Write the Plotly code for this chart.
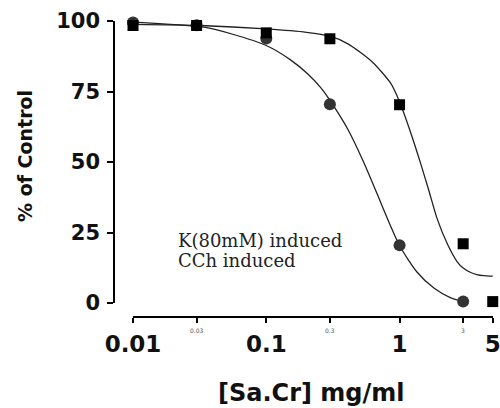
import numpy as np
import plotly.graph_objects as go

# ---- data ----
conc_circle = [0.01, 0.03, 0.1, 0.3, 1, 3]
resp_circle = [99.5, 98.5, 93.8, 70.5, 20.5, 0.5]

conc_square = [0.01, 0.03, 0.1, 0.3, 1, 3, 5]
resp_square = [98.4, 98.4, 95.8, 93.7, 70.3, 21.0, 0.5]

# fitted curves
fit_circle_x = [0.01, 0.034, 0.056, 0.1, 0.151, 0.204, 0.257, 0.309, 0.407,
                0.537, 0.724, 0.851, 1.0, 1.35, 1.82, 2.40, 3.02]
fit_circle_y = [99.6, 97.8, 95.3, 91.3, 86.3, 81.3, 76.3, 71.0, 61.8,
                50.0, 35.5, 27.6, 20.3, 11.0, 5.2, 1.9, 0.5]

fit_square_x = [0.01, 0.032, 0.1, 0.20, 0.30, 0.41, 0.63, 0.85, 0.91, 1.02, 1.2,
                1.45, 1.66, 1.91, 2.29, 2.69, 3.0, 3.39, 3.8, 4.27, 5.0]
fit_square_y = [98.8, 98.4, 97.2, 96.0, 94.6, 91.9, 85.3, 78.2, 75.7, 70.3, 61.0,
                49.0, 39.8, 30.0, 20.8, 14.8, 12.4, 10.9, 10.1, 9.7, 9.5]

x_tickvals = [0.01, 0.03, 0.1, 0.3, 1, 3, 5]
x_ticktext = ["0.01", "", "0.1", "", "1", "", "5"]
minor_labels = ["0.03", "0.3", "3"]
minor_vals = [0.03, 0.3, 3]
y_tickvals = [0, 25, 50, 75, 100]

legend_lines = ["K(80mM) induced", "CCh induced"]
x_title = "[Sa.Cr] mg/ml"
y_title = "% of Control"

# ---- figure ----
fig = go.Figure()
line_col = "#222222"
fig.add_trace(go.Scatter(x=fit_circle_x, y=fit_circle_y, mode="lines",
                         line=dict(color=line_col, width=1.3, shape="spline", smoothing=0.7),
                         cliponaxis=False, showlegend=False, hoverinfo="skip"))
fig.add_trace(go.Scatter(x=fit_square_x, y=fit_square_y, mode="lines",
                         line=dict(color=line_col, width=1.3, shape="spline", smoothing=0.7),
                         cliponaxis=False, showlegend=False, hoverinfo="skip"))
fig.add_trace(go.Scatter(x=conc_circle, y=resp_circle, mode="markers", name="CCh induced",
                         marker=dict(symbol="circle", size=12, color="#333333"),
                         cliponaxis=False, showlegend=False))
fig.add_trace(go.Scatter(x=conc_square, y=resp_square, mode="markers", name="K(80mM) induced",
                         marker=dict(symbol="square", size=11, color="#000000"),
                         cliponaxis=False, showlegend=False))

L, R, T, B = 114, 7, 21, 91
W, H = 500, 408
pw, ph = W - L - R, H - T - B

bold = dict(family="DejaVu Sans", color="#111111", weight="bold")

fig.update_layout(
    width=W, height=H,
    margin=dict(l=L, r=R, t=T, b=B, pad=0, autoexpand=False),
    paper_bgcolor="white", plot_bgcolor="white",
    showlegend=False,
    xaxis=dict(type="log", range=[np.log10(0.01), np.log10(5) + 0.002],
               domain=[(133 - L) / pw, 1], anchor="free", position=0,
               automargin=False,
               showgrid=False, zeroline=False,
               showline=True, linecolor="black", linewidth=1.5,
               ticks="outside", ticklen=5, tickwidth=1.5, tickcolor="black",
               tickmode="array", tickvals=x_tickvals, ticktext=x_ticktext,
               ticklabeloverflow="allow",
               tickfont=dict(size=23, **bold), ticklabelstandoff=2),
    yaxis=dict(range=[0, 100], domain=[(317 - 303) / ph, 1],
               anchor="free", position=0,
               automargin=False,
               showgrid=False, zeroline=False,
               showline=True, linecolor="black", linewidth=1.5,
               ticks="outside", ticklen=6, tickwidth=1.5, tickcolor="black",
               tickmode="array", tickvals=y_tickvals,
               tickfont=dict(size=21, **bold), ticklabelstandoff=3),
)

# tiny intermediate tick labels
for v, t in zip(minor_vals, minor_labels):
    fig.add_annotation(x=np.log10(v), y=0, xref="x", yref="paper",
                       text=t, showarrow=False, xanchor="center", yanchor="top",
                       yshift=-8, font=dict(size=6, color="#555555", family="DejaVu Sans"))

# axis titles
fig.add_annotation(x=(311 - L) / pw, y=(317 - 393) / ph, xref="paper", yref="paper",
                   text=x_title, showarrow=False, xanchor="center", yanchor="middle",
                   font=dict(size=24, **bold))
fig.add_annotation(x=(25 - L) / pw, y=(317 - 156) / ph, xref="paper", yref="paper",
                   text=y_title, textangle=-90, showarrow=False,
                   xanchor="center", yanchor="middle", font=dict(size=19, **bold))

# legend text
for i, t in enumerate(legend_lines):
    fig.add_annotation(x=(176 - L) / pw, y=(317 - (240 + 20 * i)) / ph,
                       xref="paper", yref="paper", text=t, showarrow=False,
                       xanchor="left", yanchor="middle",
                       font=dict(size=18, family="DejaVu Serif", color="#222222"))

fig.write_html("out.html", config={"displayModeBar": False},
               post_script="document.body.style.margin='0';")
